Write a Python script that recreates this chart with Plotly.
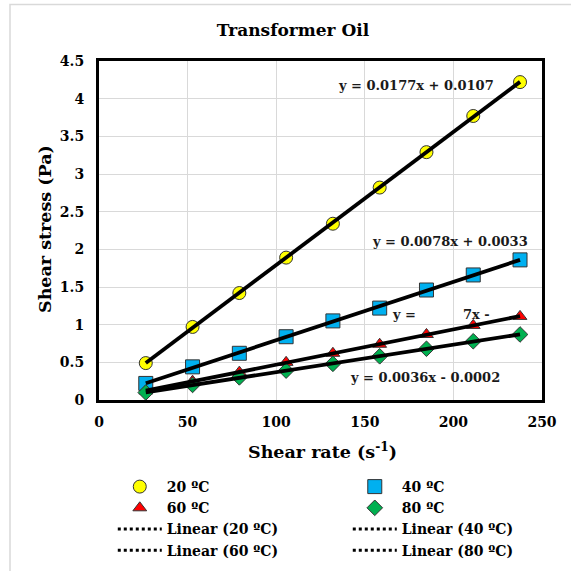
import numpy as np
import plotly.graph_objects as go

shear_rate = [26.4, 52.8, 79.2, 105.6, 132.0, 158.4, 184.8, 211.2, 237.6]
stress_20 = [0.49, 0.97, 1.42, 1.89, 2.34, 2.82, 3.29, 3.77, 4.22]
stress_40 = [0.22, 0.44, 0.62, 0.84, 1.05, 1.22, 1.46, 1.66, 1.86]
stress_60 = [0.12, 0.25, 0.37, 0.50, 0.62, 0.74, 0.87, 0.99, 1.11]
stress_80 = [0.10, 0.20, 0.30, 0.39, 0.48, 0.58, 0.68, 0.78, 0.87]

series_names = ["20 ºC", "40 ºC", "60 ºC", "80 ºC"]
series_values = [stress_20, stress_40, stress_60, stress_80]
marker_symbols = ["circle", "square", "triangle-up", "diamond"]
marker_colors = ["#FFFF00", "#00B0F0", "#FF0000", "#00B050"]
marker_sizes = [13, 14, 12, 12]

eq_texts = ["y = 0.0177x + 0.0107", "y = 0.0078x + 0.0033", "y =", "7x -", "y = 0.0036x - 0.0002"]
eq_x = [179, 198, 172, 213, 184]
eq_y = [4.17, 2.11, 1.13, 1.13, 0.3]

FONT = "DejaVu Serif"

fig = go.Figure()

for name, vals, sym, col, sz in zip(series_names, series_values, marker_symbols, marker_colors, marker_sizes):
    fig.add_trace(go.Scatter(
        x=shear_rate, y=vals, mode="markers", name=f"<b>{name}</b>",
        marker=dict(symbol=sym, color=col, size=sz, line=dict(color="#333333", width=1)),
    ))

xs = np.array(shear_rate)
for name, vals in zip(series_names, series_values):
    m, c = np.polyfit(xs, np.array(vals), 1)
    xl = [xs.min(), xs.max()]
    fig.add_trace(go.Scatter(
        x=xl, y=[m * v + c for v in xl], mode="lines", showlegend=False,
        line=dict(color="black", width=3.8), hoverinfo="skip",
    ))

for name in series_names:
    fig.add_trace(go.Scatter(
        x=[None], y=[None], mode="lines", name=f"<b>Linear ({name})</b>",
        line=dict(color="black", width=3, dash="dot"),
    ))

for t, x, y in zip(eq_texts, eq_x, eq_y):
    fig.add_annotation(x=x, y=y, text=f"<b>{t}</b>", showarrow=False,
                       font=dict(family=FONT, size=13, color="#1a1a1a"))

L, R, T, B = 99, 542, 61, 400
W = H = 571

def px2paper_x(px):
    return (px - L) / (R - L)

def px2paper_y(py):
    return (B - py) / (B - T)

# axis titles
fig.add_annotation(x=px2paper_x(322), y=px2paper_y(450), xref="paper", yref="paper",
                   text="<b>Shear rate (s<sup>-1</sup>)</b>", showarrow=False,
                   font=dict(family=FONT, size=17.5), xanchor="center", yanchor="middle")
fig.add_annotation(x=px2paper_x(45), y=px2paper_y(229), xref="paper", yref="paper",
                   text="<b>Shear stress (Pa)</b>", showarrow=False, textangle=-90,
                   font=dict(family=FONT, size=17.5), xanchor="center", yanchor="middle")

# outer chart border (only left and top edges visible in the frame)
fig.add_shape(type="rect", xref="paper", yref="paper",
              x0=px2paper_x(10), x1=px2paper_x(620), y0=px2paper_y(620), y1=px2paper_y(4.5),
              line=dict(color="#d9d9d9", width=1.5), layer="below")

LEG_BW = 14
fig.update_layout(
    width=W, height=H,
    margin=dict(l=L, r=W - R, t=T, b=H - B, autoexpand=False),
    paper_bgcolor="white", plot_bgcolor="white",
    font=dict(family=FONT, color="black"),
    title=dict(text="<b>Transformer Oil</b>", x=px2paper_x(293), xref="paper", xanchor="center",
               y=1 - 30 / H, yanchor="middle", font=dict(size=17, family=FONT)),
    showlegend=True,
    legend=dict(orientation="h", x=-0.0005, xanchor="left", y=px2paper_y(471 - LEG_BW), yanchor="top",
                entrywidth=176, entrywidthmode="pixels", font=dict(size=14, family=FONT),
                itemwidth=44, tracegroupgap=0, bgcolor="rgba(0,0,0,0)",
                borderwidth=LEG_BW, bordercolor="rgba(0,0,0,0)"),
)

fig.update_xaxes(range=[0, 250], dtick=50, showgrid=True, gridcolor="#d9d9d9", gridwidth=1,
                 showline=True, linecolor="black", linewidth=3, mirror=True, zeroline=False,
                 ticks="", tickfont=dict(size=14, family=FONT), ticklabelstandoff=7,
                 tickprefix="<b>", ticksuffix="</b>", automargin=False)
fig.update_yaxes(range=[0, 4.5], dtick=0.5, showgrid=True, gridcolor="#d9d9d9", gridwidth=1,
                 showline=True, linecolor="black", linewidth=3, mirror=True, zeroline=False,
                 ticks="", tickfont=dict(size=14, family=FONT), ticklabelstandoff=9,
                 tickprefix="<b>", ticksuffix="</b>", automargin=False)

fig.write_html("out.html", config={"displayModeBar": False},
               post_script="document.body.style.margin='0';")
